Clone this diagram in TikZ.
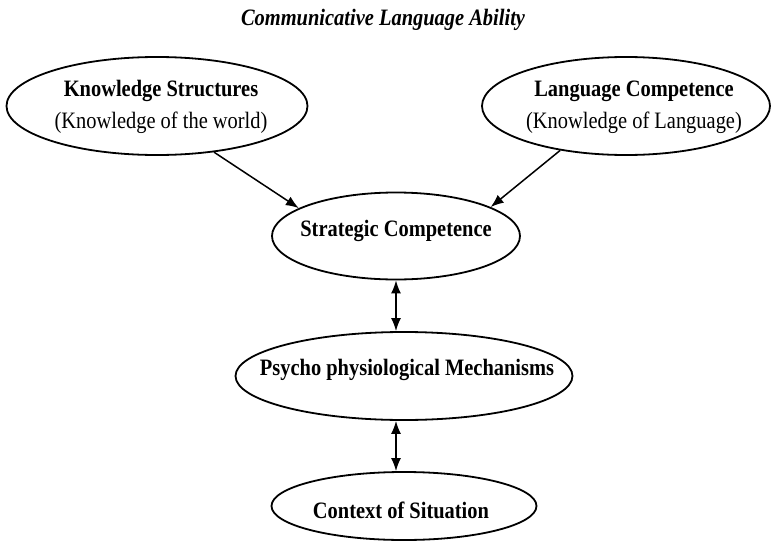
\documentclass[tikz,border=0pt]{standalone}
\usepackage{fontspec}
\setmainfont{Liberation Serif}[FakeStretch=0.87]
\usetikzlibrary{shapes.geometric,arrows.meta}
\tikzset{
  oval/.style={ellipse, draw=black, line width=1.8pt, inner sep=0pt},
  txt/.style={align=center, inner sep=0pt, font=\fontsize{23.5}{32}\selectfont},
  arr/.style={line width=1.5pt, -{Latex[length=13pt,width=10pt]}},
  dbl/.style={line width=1.5pt, {Latex[length=13pt,width=10pt]}-{Latex[length=13pt,width=10pt]}},
}
\begin{document}
\begin{tikzpicture}[x=1pt,y=-1pt]
\useasboundingbox (0,0) rectangle (772,541);
\node[font=\fontsize{23.5}{28}\selectfont\bfseries\itshape] (title) at (383,20) {Communicative Language Ability};
% ellipses
\node[oval, minimum width=301pt, minimum height=98pt] (ks) at (157,106) {};
\node[oval, minimum width=288pt, minimum height=98pt] (lc) at (626,106) {};
\node[oval, minimum width=248pt, minimum height=87pt] (sc) at (396,236) {};
\node[oval, minimum width=337pt, minimum height=88pt] (pm) at (404,376) {};
\node[oval, minimum width=265pt, minimum height=68pt] (cs) at (404,506) {};
% texts
\node[txt] (kst) at (161,107) {\textbf{Knowledge Structures}\\(Knowledge of the world)};
\node[txt] (lct) at (634,107) {\textbf{Language Competence}\\(Knowledge of Language)};
\node[txt] (sct) at (396,231) {\textbf{Strategic Competence}};
\node[txt] (pmt) at (407,370) {\textbf{Psycho physiological Mechanisms}};
\node[txt] (cst) at (401,510) {\textbf{Context of Situation}};
% connectors
\draw[arr] (ks.-39) -- (sc.164);
\draw[arr] (lc.214) -- (sc.17);
\draw[dbl] (sc.south) -- (sc.south |- pm.north);
\draw[dbl] (sc.south |- pm.south) -- (sc.south |- cs.north);
\end{tikzpicture}
\end{document}
